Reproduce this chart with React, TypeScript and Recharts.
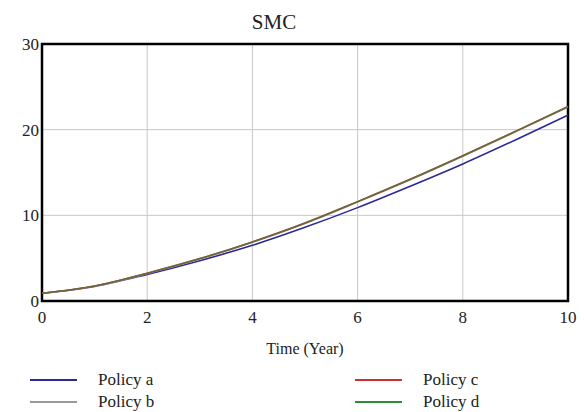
import React from "react";
import { LineChart, Line, XAxis, YAxis, CartesianGrid, ReferenceArea } from "recharts";

const years = [0, 1, 2, 3, 4, 5, 6, 7, 8, 9, 10];
const policyA = [0.9, 1.7, 3.1, 4.7, 6.5, 8.6, 10.9, 13.4, 16.0, 18.8, 21.7];
const policyB = [0.9, 1.72, 3.2, 4.9, 6.85, 9.05, 11.55, 14.15, 16.9, 19.75, 22.65];
const policyC = [0.9, 1.75, 3.25, 4.95, 6.9, 9.1, 11.6, 14.2, 16.95, 19.8, 22.7];
const policyD = [0.9, 1.75, 3.25, 4.95, 6.9, 9.1, 11.6, 14.2, 16.95, 19.8, 22.7];
const xTicks = [0, 2, 4, 6, 8, 10];
const yTicks = [0, 10, 20, 30];

const series = [
  { key: "a", name: "Policy a", color: "#2a2a96", values: policyA, opacity: 1 },
  { key: "b", name: "Policy b", color: "#999999", values: policyB, opacity: 1 },
  { key: "c", name: "Policy c", color: "#c83232", values: policyC, opacity: 1 },
  { key: "d", name: "Policy d", color: "#2e8b3a", values: policyD, opacity: 0.6 },
];

const data = years.map((t, i) => {
  const row: Record<string, number> = { t };
  series.forEach((s) => {
    row[s.key] = s.values[i];
  });
  return row;
});

const FONT = "Liberation Serif";

const XTick = (props: any) => {
  const { x, y, payload } = props;
  return (
    <text x={x} y={y + 18} textAnchor="middle" fontFamily={FONT} fontSize={17} fill="#222">
      {payload.value}
    </text>
  );
};

const YTick = (props: any) => {
  const { x, y, payload } = props;
  return (
    <text x={x} y={y + 6} textAnchor="end" fontFamily={FONT} fontSize={17} fill="#222">
      {payload.value}
    </text>
  );
};

export default function App() {
  const legendPos = [
    { left: 30, top: 371 },
    { left: 30, top: 393 },
    { left: 355, top: 371 },
    { left: 355, top: 393 },
  ];
  return (
    <div style={{ position: "absolute", left: 0, top: 0, width: 584, height: 412, background: "#fff", fontFamily: FONT }}>
      <div style={{ position: "absolute", left: 0, width: 548, top: 10, textAlign: "center", fontSize: 21, color: "#222" }}>SMC</div>
      <LineChart width={584} height={412} data={data} margin={{ top: 44, right: 16, left: 0, bottom: 71 }} style={{ fontFamily: FONT }}>
        <CartesianGrid stroke="#c8c8c8" strokeWidth={1} verticalValues={[2, 4, 6, 8]} horizontalValues={[10, 20]} />
        <XAxis
          dataKey="t"
          type="number"
          domain={[0, 10]}
          ticks={xTicks}
          height={40}
          axisLine={false}
          tickLine={false}
          tickSize={0}
          tickMargin={4}
          tick={<XTick />}
          label={{ value: "Time (Year)", position: "bottom", offset: 2, fill: "#222", fontSize: 16, fontFamily: FONT }}
        />
        <YAxis
          type="number"
          domain={[0, 30]}
          ticks={yTicks}
          width={42}
          axisLine={false}
          tickLine={false}
          tickSize={0}
          tickMargin={3}
          tick={<YTick />}
        />
        {series.map((s) => (
          <Line
            key={s.key}
            type="monotone"
            dataKey={s.key}
            name={s.name}
            stroke={s.color}
            strokeOpacity={s.opacity}
            strokeWidth={1.6}
            dot={false}
            isAnimationActive={false}
          />
        ))}
        <ReferenceArea x1={0} x2={10} y1={0} y2={30} fill="none" fillOpacity={0} stroke="#000" strokeWidth={2.5} ifOverflow="visible" />
      </LineChart>
      {series.map((s, i) => (
        <div key={s.key} style={{ position: "absolute", left: legendPos[i].left, top: legendPos[i].top, height: 18, display: "flex", alignItems: "center" }}>
          <div style={{ width: 47, height: 2, background: s.color }} />
          <span style={{ marginLeft: 21, fontSize: 17, color: "#222", lineHeight: "18px" }}>{s.name}</span>
        </div>
      ))}
    </div>
  );
}
